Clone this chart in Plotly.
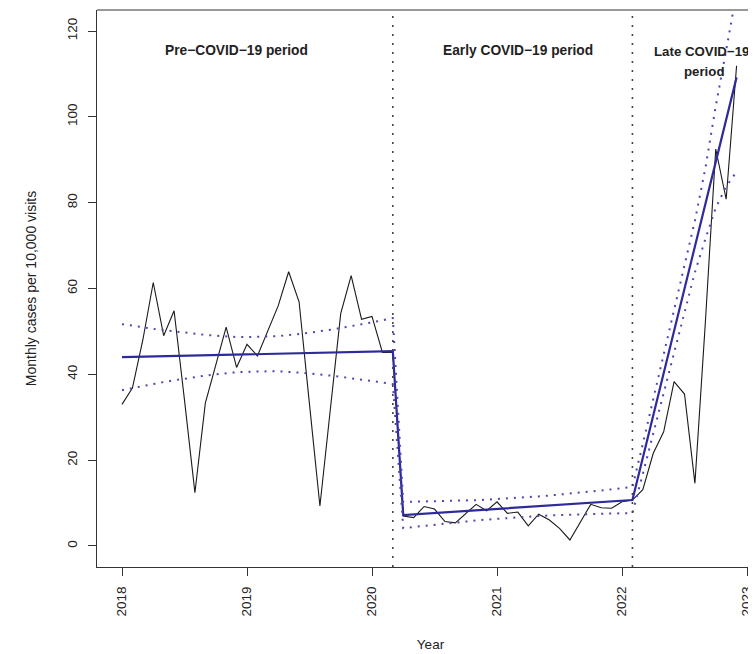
import plotly.graph_objects as go

# ---------------- data ----------------
start_year = 2018
# monthly observed rates, Jan 2018 .. Dec 2022
observed = [33.0, 36.8, 48.0, 61.4, 49.0, 54.8, 34.0, 12.4, 33.3, 42.1,
            51.0, 41.6, 47.0, 44.3, 50.0, 56.0, 63.9, 56.9, 33.0, 9.3,
            31.8, 54.2, 63.0, 52.8, 53.5, 45.1, 45.1,
            7.0, 6.6, 9.2, 8.6, 5.7, 5.4, 7.6, 9.7, 8.2, 10.3,
            7.6, 7.9, 4.7, 7.4, 6.1, 4.1, 1.4, 5.7, 9.7, 8.9,
            8.8, 10.3, 10.7,
            13.1, 21.6, 26.6, 38.3, 35.4, 14.6, 52.0, 92.5, 80.8, 111.9]

# fitted segmented-regression line (month index -> value)
fit_months = [0, 26, 27, 49, 59]
fit_values = [44.0, 45.4, 7.2, 10.7, 109.2]

# confidence band, one value per month
band_upper = [51.7, 51.3, 51.0, 50.6, 50.3, 50.0, 49.7, 49.4, 49.2, 49.0,
              48.8, 48.7, 48.7, 48.7, 48.8, 48.9, 49.1, 49.4, 49.7, 50.0,
              50.4, 50.8, 51.2, 51.7, 52.1, 52.6, 53.1,
              10.25, 10.29, 10.33, 10.38, 10.44, 10.51, 10.59, 10.68, 10.79, 10.91,
              11.05, 11.20, 11.37, 11.55, 11.75, 11.96, 12.18, 12.41, 12.66, 12.92,
              13.19, 13.47, 13.75,
              23.8, 34.2, 44.5, 54.8, 65.0, 75.8, 88.0, 102.5, 115.5, 129.0]
band_lower = [36.3, 36.8, 37.3, 37.7, 38.2, 38.6, 39.0, 39.4, 39.7, 40.0,
              40.3, 40.5, 40.6, 40.7, 40.7, 40.7, 40.6, 40.4, 40.2, 40.0,
              39.7, 39.4, 39.1, 38.8, 38.4, 38.1, 37.7,
              4.15, 4.43, 4.71, 4.98, 5.24, 5.49, 5.71, 5.94, 6.15, 6.35,
              6.53, 6.70, 6.85, 6.99, 7.11, 7.22, 7.30, 7.39, 7.46, 7.52,
              7.57, 7.61, 7.65,
              16.8, 26.3, 35.8, 45.0, 54.8, 63.8, 71.5, 78.8, 83.8, 87.2]

# period boundaries (year, month)
breaks = [(2020, 3), (2022, 2)]

period_labels = ["Pre\u2212COVID\u221219 period", "Early COVID\u221219 period",
                 "Late COVID\u221219", "period"]
label_x = [2018.912, 2021.168, 2022.635, 2022.66]
label_y = [115.5, 115.5, 115.2, 110.5]

year_ticks = [2018, 2019, 2020, 2021, 2022, 2023]
y_ticks = [0, 20, 40, 60, 80, 100, 120]

# ---------------- build ----------------
def yr(m):
    return start_year + m / 12.0

x_obs = [yr(i) for i in range(len(observed))]
x_fit = [yr(m) for m in fit_months]

FONT = "Liberation Sans, Arial, Helvetica, sans-serif"
BLUE = "#2E2A9C"
BAND = "#4B47B5"

fig = go.Figure()
fig.add_trace(go.Scatter(x=x_obs, y=observed, mode="lines",
                         line=dict(color="#1a1a1a", width=1.1),
                         showlegend=False, hoverinfo="skip"))
fig.add_trace(go.Scatter(x=x_fit, y=fit_values, mode="lines",
                         line=dict(color=BLUE, width=2.2),
                         showlegend=False, hoverinfo="skip"))
for band in (band_upper, band_lower):
    fig.add_trace(go.Scatter(x=x_obs, y=band, mode="lines",
                             line=dict(color=BAND, width=2, dash="2px,6px"),
                             showlegend=False, hoverinfo="skip"))

for (by, bm) in breaks:
    bx = by + (bm - 1) / 12.0
    fig.add_shape(type="line", xref="x", yref="paper", x0=bx, x1=bx, y0=0, y1=1,
                  line=dict(color="#444444", width=1.6, dash="2px,7px"))

# top border of the box
fig.add_shape(type="line", xref="paper", yref="paper", x0=0, x1=1, y0=1, y1=1,
              line=dict(color="#333333", width=1))

for i, (t, lx, ly) in enumerate(zip(period_labels, label_x, label_y)):
    fig.add_annotation(x=lx, y=ly, xref="x", yref="y", text="<b>" + t + "</b>",
                       showarrow=False,
                       font=dict(family=FONT, size=13.75 if i < 2 else 13.25,
                                 color="#222222"),
                       xanchor="center", yanchor="middle")

fig.update_layout(
    width=756, height=654,
    margin=dict(l=89, r=0, t=2, b=95, autoexpand=False),
    paper_bgcolor="white", plot_bgcolor="white",
    font=dict(family=FONT, size=13.5, color="#222222"),
    showlegend=False,
)
fig.update_xaxes(range=[2017.8, 2023.136], tickvals=year_ticks,
                 ticktext=[str(v) for v in year_ticks],
                 tickangle=-90, ticks="outside", ticklen=8, tickcolor="#333333",
                 ticklabelstandoff=5, tickfont=dict(size=13.5),
                 showline=True, linecolor="#333333", linewidth=1,
                 showgrid=False, zeroline=False,
                 title=dict(text="Year", standoff=24, font=dict(size=13.5)))
fig.update_yaxes(range=[-4.9, 124.9], tickvals=y_ticks,
                 tickangle=-90, ticks="outside", ticklen=8, tickcolor="#333333",
                 ticklabelstandoff=6, tickfont=dict(size=13.5),
                 showline=True, linecolor="#333333", linewidth=1,
                 showgrid=False, zeroline=False,
                 title=dict(text="Monthly cases per 10,000 visits", standoff=24,
                            font=dict(size=14)))

fig.write_html("out.html")
